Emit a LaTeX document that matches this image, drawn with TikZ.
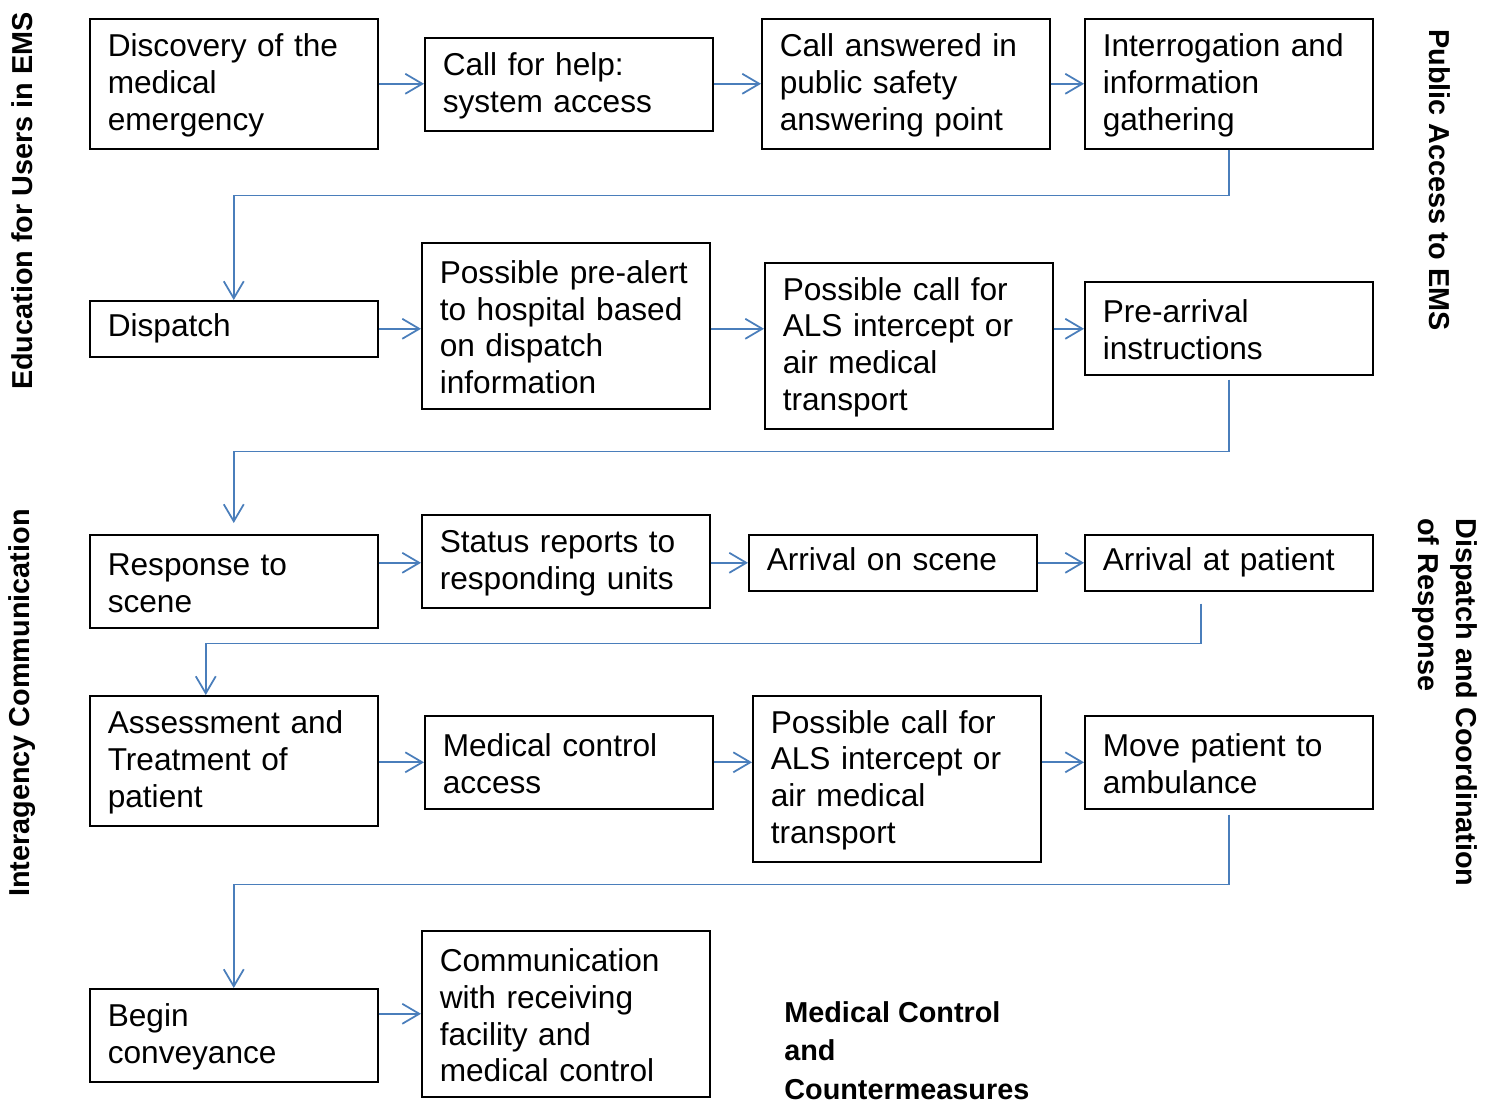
\documentclass[tikz,border=0pt]{standalone}
\usepackage{fontspec}
\setmainfont{Liberation Sans}
\usetikzlibrary{arrows.meta,calc}
\definecolor{arrowblue}{HTML}{4A7EBB}
\tikzset{
  box/.style={draw, line width=0.9pt, anchor=north west, minimum width=5.76cm,
    text width=5.04cm, inner xsep=0.36cm, inner ysep=0pt, align=left,
    font=\fontsize{18}{21}\selectfont, execute at begin node=\strut},
  h1/.style={minimum height=1.12cm},
  h2/.style={minimum height=1.86cm},
  h3/.style={minimum height=2.6cm},
  h4/.style={minimum height=3.32cm},
  flow/.style={draw=arrowblue, line width=1pt,
    -{Straight Barb[length=0.34cm,width=0.4cm]}},
  side/.style={font=\bfseries\fontsize{16.4}{22}\selectfont, inner sep=0pt}
}
\begin{document}
\begin{tikzpicture}[x=0.02cm,y=-0.02cm]
  \useasboundingbox (0,0) rectangle (1496,1100);

  % first row
  \node[box,h3] (disc) at (89,18) {Discovery of the\\medical\\emergency};
  \node[box,h2] (help) at (424,37) {Call for help:\\system access};
  \node[box,h3] (answer) at (761,18) {Call answered in\\public safety\\answering point};
  \node[box,h3] (interro) at (1084,18) {Interrogation and\\information\\gathering};

  % second row
  \node[box,h1] (dispatch) at (89,300) {Dispatch};
  \node[box,h4] (prealert) at (421,242) {Possible pre-alert\\to hospital based\\on dispatch\\information};
  \node[box,h4] (als1) at (764,262) {Possible call for\\ALS intercept or\\air medical\\transport};
  \node[box,h2] (prearrival) at (1084,281) {Pre-arrival\\instructions};

  % third row
  \node[box,h2] (response) at (89,534) {Response to\\scene};
  \node[box,h2] (status) at (421,514) {Status reports to\\responding units};
  \node[box,h1] (onscene) at (748,534) {Arrival on scene};
  \node[box,h1] (atpatient) at (1084,534) {Arrival at patient};

  % fourth row
  \node[box,h3] (assess) at (89,695) {Assessment and\\Treatment of\\patient};
  \node[box,h2] (medctrl) at (424,715) {Medical control\\access};
  \node[box,h4] (als2) at (752,695) {Possible call for\\ALS intercept or\\air medical\\transport};
  \node[box,h2] (move) at (1084,715) {Move patient to\\ambulance};

  % fifth row
  \node[box,h2] (convey) at (89,988) {Begin\\conveyance};
  \node[box,h4] (commun) at (421,930) {Communication\\with receiving\\facility and\\medical control};

  % arrows along the rows
  \foreach \a/\b in {disc/help, help/answer, answer/interro}
    \draw[flow] (\a.east |- disc) -- (\b.west |- disc);
  \foreach \a/\b in {dispatch/prealert, prealert/als1, als1/prearrival}
    \draw[flow] (\a.east |- dispatch) -- (\b.west |- dispatch);
  \foreach \a/\b in {response/status, status/onscene, onscene/atpatient}
    \draw[flow] (\a.east |- onscene) -- (\b.west |- onscene);
  \foreach \a/\b in {assess/medctrl, medctrl/als2, als2/move}
    \draw[flow] (\a.east |- medctrl) -- (\b.west |- medctrl);
  \draw[flow] (convey.east |- commun) -- (commun.west);

  % arrows between rows
  \draw[flow] (interro.south) -- ++(0,46) -| (dispatch.north);
  \draw[flow] ([yshift=-0.08cm]prearrival.south) -- ++(0,72) -| ([yshift=0.22cm]response.north);
  \draw[flow] ([xshift=-0.56cm,yshift=-0.24cm]atpatient.south) -- ++(0,40) -| ([xshift=-0.56cm]assess.north);
  \draw[flow] ([yshift=-0.1cm]move.south) -- ++(0,70) -| (convey.north);

  % side labels
  \node[side,rotate=90] (edu) at (22,201) {Education for Users in EMS};
  \node[side,rotate=90] (inter) at (22,703) {Interagency Communication};
  \node[side,rotate=-90] (pub) at (1440,180) {Public Access to EMS};
  \node[side,rotate=-90,align=left,anchor=north west] (disp) at (1478,518) {Dispatch and Coordination\\of Response};
  \node[side,align=left,anchor=north west] (mcc) at (784,1001) {Medical Control\\and\\Countermeasures};
\end{tikzpicture}
\end{document}
